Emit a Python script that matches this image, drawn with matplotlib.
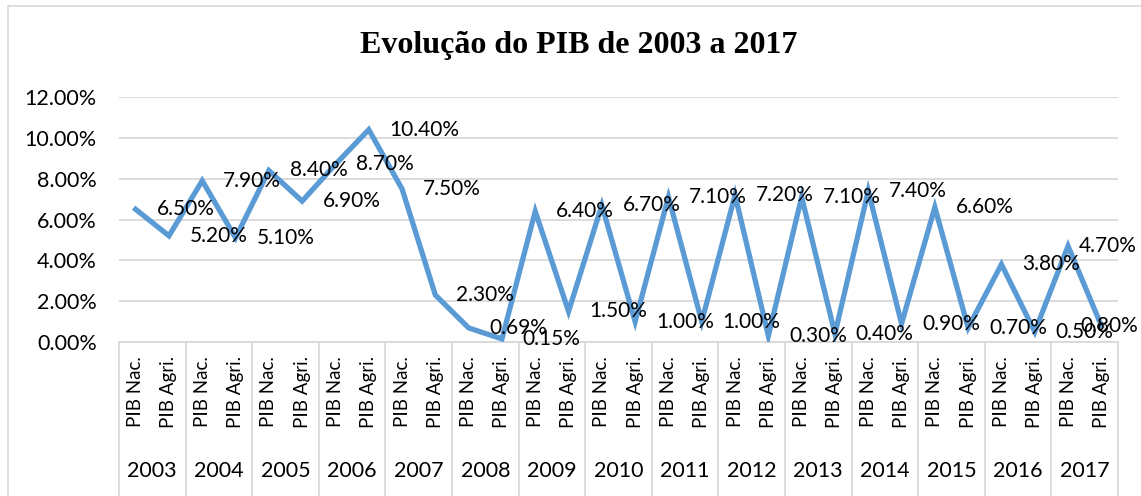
import matplotlib.pyplot as plt
from matplotlib import transforms
from matplotlib.patches import Rectangle
from matplotlib.ticker import FuncFormatter

anos = ["2003", "2004", "2005", "2006", "2007", "2008", "2009", "2010",
        "2011", "2012", "2013", "2014", "2015", "2016", "2017"]
series = ["PIB Nac.", "PIB Agri."]

pib_nac = [6.50, 7.90, 8.40, 8.70, 7.50, 0.69, 6.40, 6.70,
           7.10, 7.20, 7.10, 7.40, 6.60, 3.80, 4.70]
pib_agri = [5.20, 5.10, 6.90, 10.40, 2.30, 0.15, 1.50, 1.00,
            1.00, 0.30, 0.40, 0.90, 0.70, 0.50, 0.80]

# intercalar Nac / Agri por ano
valores = []
for n, a in zip(pib_nac, pib_agri):
    valores.append(n / 100)
    valores.append(a / 100)
x = list(range(len(valores)))

fonte = "Lato"
cinza = "#d9d9d9"

fig = plt.figure(figsize=(11.41, 4.96), dpi=100)
fig.patches.append(Rectangle((8 / 1141, -0.1), 1.2, (496 - 6) / 496 + 0.1,
                             transform=fig.transFigure, fill=False,
                             edgecolor=cinza, linewidth=1.2))

ax = fig.add_axes([119 / 1141, 1 - 342 / 496, 999 / 1141, 245 / 496])
ax.plot(x, valores, color="#5b9bd5", linewidth=3.8, solid_joinstyle="miter", zorder=3)

# os dois ultimos rotulos ficam empurrados para dentro do grafico
desloc = {len(valores) - 2: 8, len(valores) - 1: -15}
for xi, v in zip(x, valores):
    ax.annotate(f"{v * 100:.2f}%", (xi, v), xytext=(desloc.get(xi, 15), 0),
                textcoords="offset points", ha="left", va="center", fontsize=15,
                family=fonte, annotation_clip=False, zorder=4)

ax.set_xlim(-0.5, len(valores) - 0.5)
ax.set_ylim(0, 0.12)
ax.set_yticks([0, 0.02, 0.04, 0.06, 0.08, 0.10, 0.12])
ax.yaxis.set_major_formatter(FuncFormatter(lambda v, p: f"{v * 100:.2f}%"))
ax.grid(axis="y", color=cinza, linewidth=1.3)
ax.set_axisbelow(True)
for s in ["top", "right", "left"]:
    ax.spines[s].set_visible(False)
ax.spines["bottom"].set_color(cinza)
ax.spines["bottom"].set_linewidth(1.3)
ax.tick_params(axis="y", length=0, pad=16, labelsize=15.5)
ax.tick_params(axis="x", length=0, labelbottom=False)
for lbl in ax.get_yticklabels():
    lbl.set_family(fonte)

# eixo de categorias em dois niveis
tr = transforms.blended_transform_factory(ax.transData, fig.transFigure)
y_eixo = 1 - 342 / 496
for i in range(len(anos) + 1):
    ax.plot([i * 2 - 0.5, i * 2 - 0.5], [y_eixo, 0], transform=tr, color=cinza,
            linewidth=1.3, clip_on=False)
for i, ano in enumerate(anos):
    for j, s in enumerate(series):
        ax.text(i * 2 + j, 1 - 356 / 496, s, transform=tr, rotation=90,
                ha="center", va="top", fontsize=13.5, family=fonte)
    ax.text(i * 2 + 0.5, 1 - 471 / 496, ano, transform=tr, ha="center", va="center",
            fontsize=15.5, family=fonte)

fig.text(579 / 1141, 1 - 46 / 496, "Evolução do PIB de 2003 a 2017", ha="center",
         va="center", fontsize=23, fontweight="bold", family="Liberation Serif")

fig.savefig("out.png", dpi=100)
